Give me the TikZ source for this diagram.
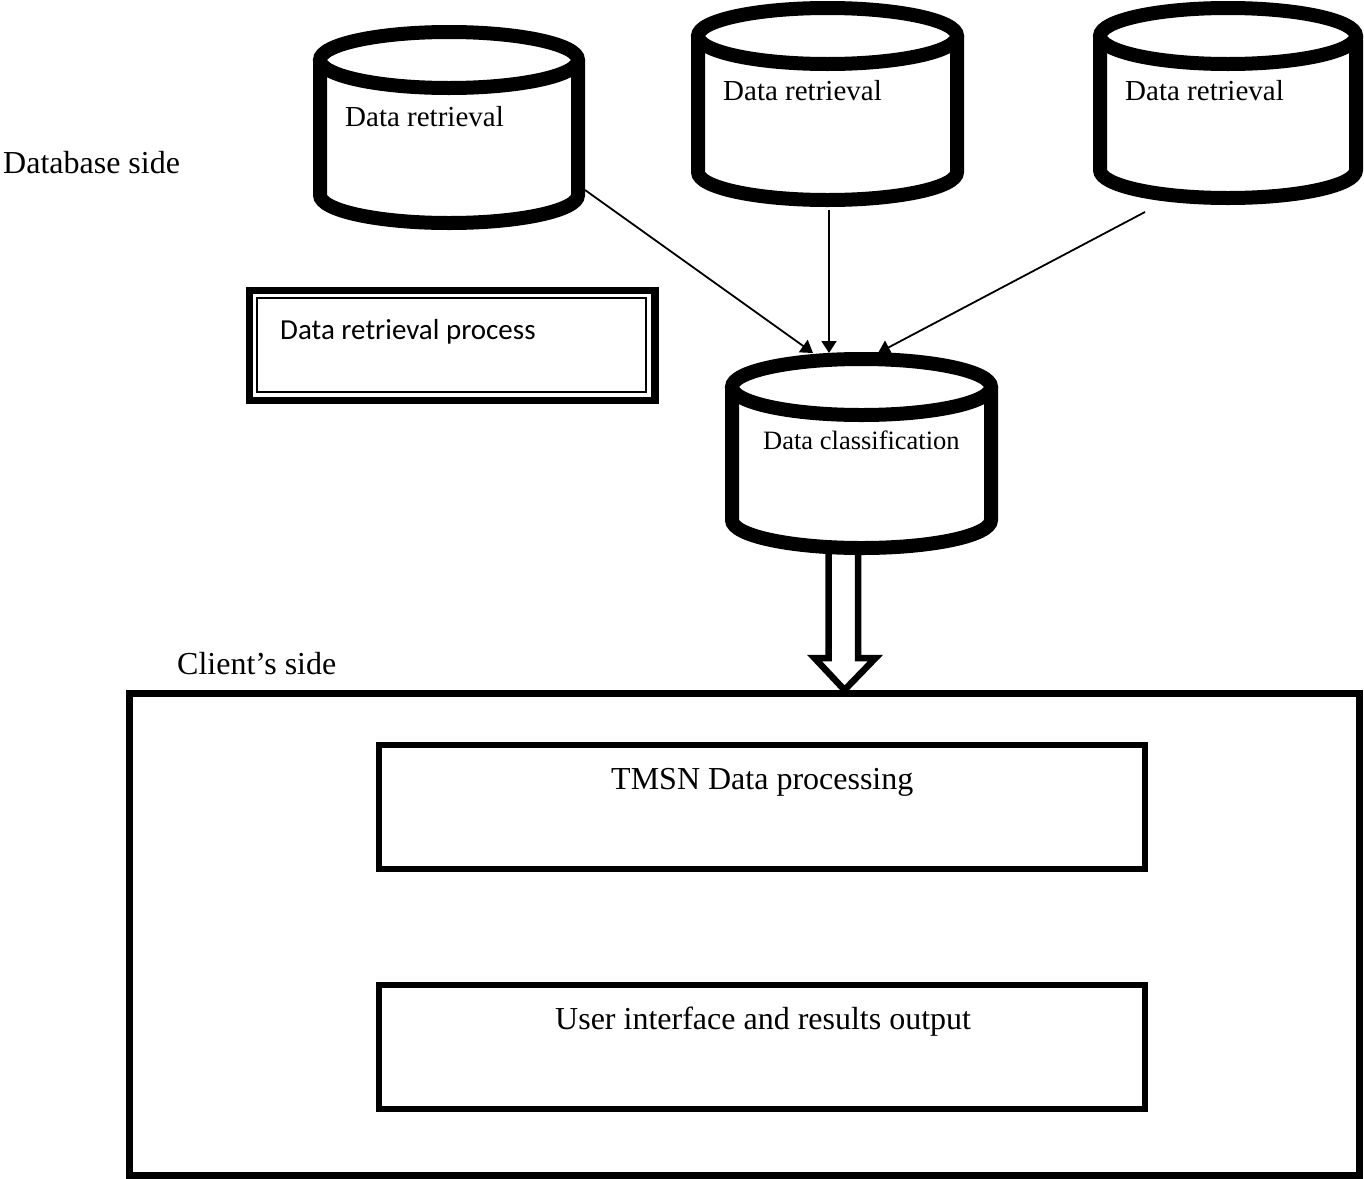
\documentclass[tikz,border=0pt]{standalone}
\usepackage{fontspec}
\setmainfont{Liberation Serif}
\newfontfamily\calibfont{Carlito}
\usetikzlibrary{arrows.meta}
\newcommand\drawcyl[4]{% cx, rx, ytop, ybot
  \draw[cyl] (#1,-#3) ellipse [x radius=#2, y radius=28];
  \draw[cyl] (#1-#2,-#3) -- (#1-#2,-#4) arc[start angle=180,end angle=360,x radius=#2,y radius=28] -- (#1+#2,-#3);
}
\begin{document}
\begin{tikzpicture}[x=1pt,y=1pt,
  cyl/.style={line width=14pt},
  con/.style={line width=1.8pt,-{Triangle[length=12pt,width=15pt]}},
  frame/.style={draw,anchor=north west,inner sep=0pt,outer sep=0pt},
  boxnode/.style={frame,line width=6pt},
  lbl/.style={anchor=base west,inner sep=0pt,font=\fontsize{32}{38}\selectfont},
  cyltxt/.style={anchor=base west,inner sep=0pt,font=\fontsize{29}{34}\selectfont}]
\useasboundingbox (0,0) rectangle (1364,-1178);

% block arrow (drawn first so the cylinder covers its top)
\draw[line width=6.5pt,line join=miter,fill=white] (828.5,-548) -- (828.5,-658) -- (814.5,-658) -- (844.5,-690) -- (875.5,-658) -- (858,-658) -- (858,-548);

% cylinders
\drawcyl{449}{129}{60}{195}
\drawcyl{827.5}{129.5}{36}{172}
\drawcyl{1228}{128}{36}{170}
\drawcyl{861.5}{129.5}{387}{520}

% cylinder labels
\node[cyltxt] (ret1) at (345,-126) {Data retrieval};
\node[cyltxt] (ret2) at (723,-100) {Data retrieval};
\node[cyltxt] (ret3) at (1125,-100) {Data retrieval};
\node[anchor=base west,inner sep=0pt,font=\fontsize{26.5}{32}\selectfont] (cls) at (763,-449) {Data classification};

% connector end points
\coordinate (o1) at (585,-190);
\coordinate (o2) at (829,-210);
\coordinate (o3) at (1145,-212);
\coordinate (i1) at (813,-353);
\coordinate (i2) at (829,-353);
\coordinate (i3) at (878,-353);
\draw[con] (o1) -- (i1);
\draw[con] (o2) -- (i2);
\draw[con] (o3) -- (i3);

% double border box
\node[frame,line width=7.5pt,minimum width=405.5pt,minimum height=110pt] (procout) at (249.5,-290.5) {};
\node[frame,line width=1.5pt,minimum width=389pt,minimum height=94pt] (procin) at (257,-298) {};
\node[anchor=base west,inner sep=0pt,font=\calibfont\fontsize{29}{34}\selectfont] (proc) at (280,-339) {Data retrieval process};

% side labels
\node[lbl] (dbside) at (3,-173) {Database side};
\node[lbl] (client) at (177,-674) {Client’s side};

% client box
\node[frame,line width=7pt,minimum width=1230pt,minimum height=481.5pt] (clientbox) at (129.5,-693.5) {};
\node[boxnode,minimum width=766pt,minimum height=124pt] (tmsnbox) at (379,-745) {};
\node[boxnode,minimum width=766pt,minimum height=124pt] (uibox) at (379,-985) {};
\node[lbl] (tmsn) at (611,-789) {TMSN Data processing};
\node[lbl] (ui) at (555,-1029) {User interface and results output};
\end{tikzpicture}
\end{document}
